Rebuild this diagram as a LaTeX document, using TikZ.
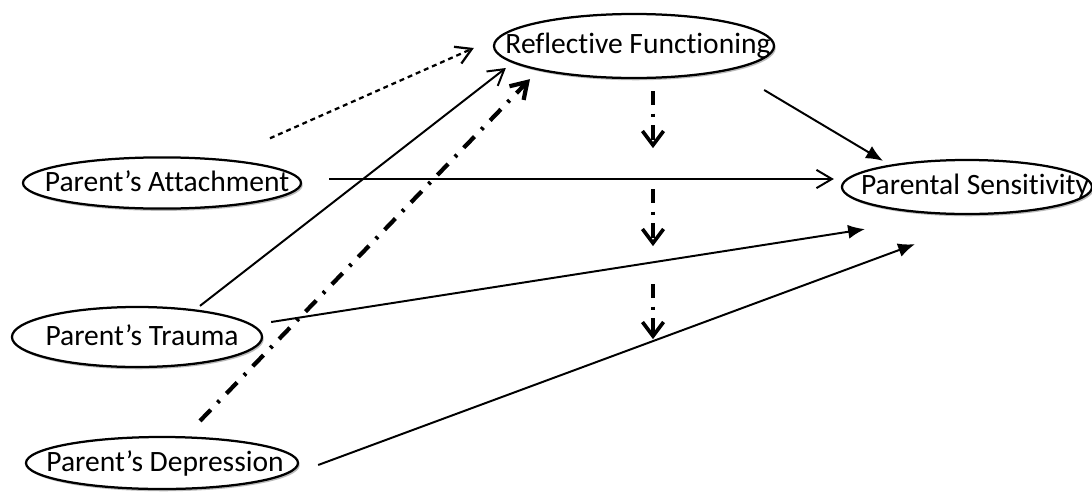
\documentclass[tikz,border=0pt]{standalone}
\usepackage{fontspec}
\setmainfont[Ligatures={TeX,NoCommon}]{Carlito}
\usetikzlibrary{positioning,calc,shapes.geometric,shadows,arrows.meta}
\tikzset{
  factor/.style={ellipse,draw=black,line width=1.6pt,fill=white,inner sep=0pt,
    drop shadow={shadow xshift=1.2pt,shadow yshift=-1.6pt,fill=black!45,opacity=0.6},
    font=\fontsize{21}{24}\selectfont},
  direct/.style={line width=1.4pt,-{Straight Barb[length=11pt,width=13pt]}},
  effect/.style={line width=1.4pt,-{Latex[length=12pt,width=10pt]}},
  tentative/.style={line width=1.6pt,dash pattern=on 3.5pt off 2.8pt,
    -{Straight Barb[length=11pt,width=13pt]}},
  indirect/.style={line width=3pt,dash pattern=on 11pt off 7pt on 2pt off 7pt,
    -{Straight Barb[length=11pt,width=14pt]}},
  mediated/.style={line width=2.6pt,dash pattern=on 10pt off 6pt on 2.4pt off 6pt,
    -{Straight Barb[length=10pt,width=15pt]}}
}
\newcommand{\famfactor}[6]{%
  \node[factor,minimum width=#3,minimum height=#4] (#1) at (#2)
        {\makebox[0pt]{\hspace*{#6}\raisebox{0.08cm}{#5}}};
}

\begin{document}
\begin{tikzpicture}[x=0.025cm,y=-0.025cm]
  \useasboundingbox (0,0) rectangle (1092,494);
  \famfactor{rf}{634,46}{7cm}{1.6cm}{Reflective Functioning}{0.2cm}
  \famfactor{att}{162,183}{6.95cm}{1.28cm}{Parent’s Attachment}{0.25cm}
  \famfactor{ps}{967,187}{6.25cm}{1.35cm}{Parental Sensitivity}{0.4cm}
  \famfactor{tra}{137,337}{6.25cm}{1.5cm}{Parent’s Trauma}{0.25cm}
  \famfactor{dep}{162,463}{6.8cm}{1.3cm}{Parent’s Depression}{0.15cm}
  \draw[tentative] ($(att.north)+(108,-18)$) -- ($(rf.west)+(-19,2)$);
  \draw[direct] ($(tra.north)+(63,0)$) -- ($(rf.west)+(13,22)$);
  \draw[indirect] ($(dep.north)+(38,-15)$) -- ($(rf.south)+(-104,0)$);
  \draw[direct] ($(att.east)+(27,-4)$) -- ($(ps.west)+(-7,-8)$);
  \draw[effect] ($(rf.east)+(-11,44)$) -- ($(ps.north)+(-84,2)$);
  \draw[effect] ($(tra.east)+(8,-15)$) -- ($(ps.south)+(-102,14)$);
  \draw[effect] ($(dep.east)+(19,2)$) -- ($(ps.south)+(-52,29)$);
  \foreach \ys/\ye in {12/69,110/167,205/260}
    \draw[mediated] ($(rf.south)+(19,\ys)$) -- ($(rf.south)+(19,\ye)$);
\end{tikzpicture}
\end{document}
